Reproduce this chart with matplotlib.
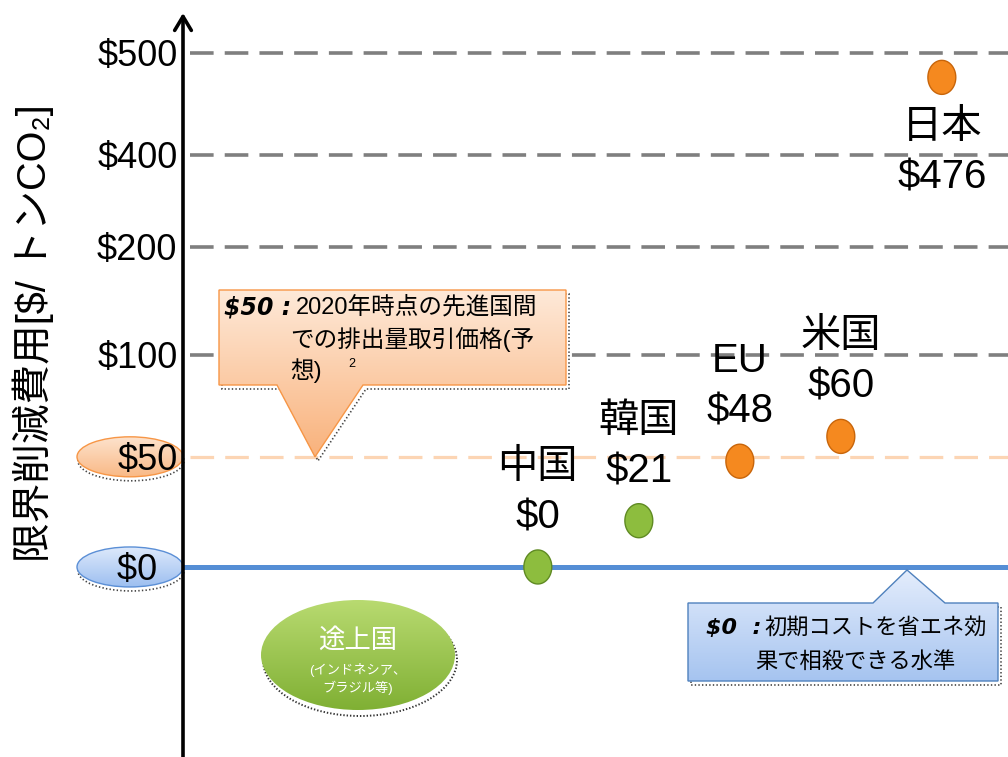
import numpy as np
import matplotlib
matplotlib.use("Agg")
import matplotlib.pyplot as plt
from matplotlib.patches import Polygon, Ellipse
from matplotlib.path import Path
from matplotlib.markers import MarkerStyle
from matplotlib.colors import to_rgb

plt.rcParams['font.family'] = ['Liberation Sans', 'Noto Sans CJK JP', 'DejaVu Sans']
plt.rcParams['lines.scale_dashes'] = False

# ---------------- data ----------------
countries = ['中国', '韓国', 'EU', '米国', '日本']
costs = [0, 21, 48, 60, 476]
developed = [False, False, True, True, True]
tick_vals = [0, 50, 100, 200, 400, 500]
tick_labels = ['$0', '$50', '$100', '$200', '$400', '$500']
grid_vals = [100, 200, 400, 500]
ref_price = 50       # 先進国間の排出量取引価格
breakeven = 0        # 省エネ効果で相殺できる水準

ylabel = '限界削減費用[$/ トンCO₂]'
note50_head = '$50 :'
note50_lines = ['2020年時点の先進国間', 'での排出量取引価格(予', '想)']
note0_head = '$0  :'
note0_lines = ['初期コストを省エネ効', '果で相殺できる水準']
dev_title = '途上国'
dev_sub = '(インドネシア、\nブラジル等)'

# ---------------- figure ----------------
W, H = 1008, 757
fig = plt.figure(figsize=(W / 100, H / 100), dpi=100, facecolor='white')

# background overlay (pixel coords, y down)
bg = fig.add_axes([0, 0, 1, 1], zorder=0)
bg.set_xlim(0, W); bg.set_ylim(H, 0); bg.axis('off')

ax = fig.add_axes([183 / W, 0, 1 - 183 / W, 1 - 13 / H], zorder=1)
ax.patch.set_alpha(0)

fg = fig.add_axes([0, 0, 1, 1], zorder=2)
fg.set_xlim(0, W); fg.set_ylim(H, 0); fg.axis('off')
fg.patch.set_alpha(0)

# piecewise scale of the value axis (ticks roughly evenly spaced)
KV = np.array(tick_vals, float)
KP = np.array([0, 1.08, 2.08, 3.14, 4.04, 5.04])


def _pw(v, a, b):
    v = np.asarray(v, float)
    out = np.interp(v, a, b)
    lo = b[0] + (v - a[0]) * (b[1] - b[0]) / (a[1] - a[0])
    hi = b[-1] + (v - a[-1]) * (b[-1] - b[-2]) / (a[-1] - a[-2])
    return np.where(v < a[0], lo, np.where(v > a[-1], hi, out))


ax.set_yscale('function', functions=(lambda v: _pw(v, KV, KP), lambda p: _pw(p, KP, KV)))
ax.set_ylim(_pw(-1.863, KP, KV), _pw(5.431, KP, KV))
x = np.arange(len(countries))
ax.set_xlim(-3.513, 4.655)

# axis styling
for s in ['top', 'right', 'bottom', 'left']:
    ax.spines[s].set_visible(False)
ax.set_xticks([])
# the $0 level sits centred in its ellipse badge
shown_labels = [lab + ('  ' if v == breakeven else '') for v, lab in zip(tick_vals, tick_labels)]
ax.set_yticks(tick_vals, labels=shown_labels)
ax.tick_params(axis='y', length=0, pad=4, labelsize=26)
ax.annotate('', xy=(0, 1), xycoords='axes fraction', xytext=(0, 0),
            arrowprops=dict(arrowstyle='->,head_length=1.0,head_width=0.6', lw=2.6,
                            color='black', shrinkA=0, shrinkB=0), zorder=5)

# grid lines
for gv in grid_vals:
    ax.axhline(gv, xmin=0.009, xmax=1, color='#7f7f7f', lw=2.6, dashes=(17, 8), zorder=1)
ax.axhline(ref_price, xmin=0.009, xmax=1, color='#fcd5b4', lw=2.3, dashes=(17, 8), zorder=1)
ax.axhline(breakeven, xmin=0, xmax=1, color='#558ed5', lw=3.6, zorder=1)

# points
t = np.linspace(0, 2 * np.pi, 60)
ell = Path(np.column_stack([0.41 * np.cos(t), 0.5 * np.sin(t)]), closed=True)
colors = ['#f5891f' if d else '#8dbd3e' for d in developed]
edges = ['#c8650a' if d else '#5f8a22' for d in developed]
ax.scatter(x, costs, s=600, marker=MarkerStyle(ell), c=colors, edgecolors=edges,
           linewidths=1.0, zorder=4, clip_on=False)

# labels
top_val = max(costs)
for xi, name, c in zip(x, countries, costs):
    txt = f'{name}\n${c}'
    if c == top_val:
        ax.annotate(txt, (xi, c), xytext=(0, -22), textcoords='offset points',
                    ha='center', va='top', fontsize=29, linespacing=1.42, zorder=5)
    else:
        ax.annotate(txt, (xi, c), xytext=(0, 22), textcoords='offset points',
                    ha='center', va='bottom', fontsize=29, linespacing=1.42, zorder=5)

# y label
fig.text(33 / W, 1 - 333 / H, ylabel, rotation=90, ha='center', va='center', fontsize=28.5)


# ---------------- decorations ----------------
def grad_fill(axx, patch, top_c, bot_c, y0, y1, x0, x1, z):
    n = 64
    a = np.array(to_rgb(top_c)); b = np.array(to_rgb(bot_c))
    img = np.linspace(0, 1, n)[:, None, None] * (b - a) + a
    img = np.repeat(img, 2, axis=1)
    im = axx.imshow(img, extent=(x0, x1, y1, y0), aspect='auto', origin='upper',
                    interpolation='bilinear', zorder=z)
    im.set_clip_path(patch)
    axx.set_xlim(0, W); axx.set_ylim(H, 0)


def shadow(axx, verts, z, dx=3, dy=4):
    sv = [(px + dx, py + dy) for px, py in verts]
    axx.add_patch(Polygon(sv, closed=True, fill=False, edgecolor='#444444',
                          linestyle=(0, (1, 1.6)), lw=1.2, zorder=z))


def y_px(v):
    return H - ax.transData.transform((0, v))[1]


# tick-label ellipses
for val, tc, bc, ec in [(ref_price, '#fde2cc', '#f9b986', '#f79646'),
                        (breakeven, '#dde9fb', '#9dbff0', '#5b8fd6')]:
    cy = y_px(val)
    sh = Ellipse((131, cy + 4), 106, 40, fill=False, edgecolor='#444444',
                 linestyle=(0, (1, 1.6)), lw=1.2, zorder=1)
    bg.add_patch(sh)
    e = Ellipse((130, cy), 106, 40, facecolor='none', edgecolor=ec, lw=1.0, zorder=3)
    bg.add_patch(e)
    grad_fill(bg, e, tc, bc, cy - 20, cy + 20, 77, 183, 2)

# orange callout ($50)
tip50 = y_px(ref_price)
v50 = [(219, 290), (566, 290), (566, 385), (363, 385), (315, tip50), (277, 385), (219, 385)]
shadow(fg, v50, 1)
p50 = Polygon(v50, closed=True, facecolor='none', edgecolor='#f79646', lw=1.0, zorder=3)
fg.add_patch(p50)
grad_fill(fg, p50, '#fee9d8', '#f9b27c', 290, tip50, 219, 566, 2)
fg.text(224, 307, note50_head, fontsize=17, fontweight='heavy', fontstyle='italic',
        family='DejaVu Sans', va='center', ha='left', zorder=4)
fg.text(296, 307, note50_lines[0], fontsize=17, va='center', ha='left', zorder=4)
fg.text(290, 340, note50_lines[1], fontsize=17, va='center', ha='left', zorder=4)
fg.text(290, 371, note50_lines[2], fontsize=17, va='center', ha='left', zorder=4)
fg.text(348, 364, '2', fontsize=9, va='center', ha='left', zorder=4)

# blue callout ($0)
tip0 = y_px(breakeven) + 3
v0 = [(688, 603), (873, 603), (907, tip0), (945, 603), (998, 603), (998, 681), (688, 681)]
shadow(fg, v0, 1)
p0 = Polygon(v0, closed=True, facecolor='none', edgecolor='#4f81bd', lw=1.0, zorder=3)
fg.add_patch(p0)
grad_fill(fg, p0, '#e4edfc', '#a6c4f0', tip0, 681, 688, 998, 2)
fg.text(706, 628, note0_head, fontsize=16, fontweight='heavy', fontstyle='italic',
        family='DejaVu Sans', va='center', ha='left', zorder=4)
fg.text(764, 628, note0_lines[0], fontsize=16, va='center', ha='left', zorder=4)
fg.text(755, 662, note0_lines[1], fontsize=16, va='center', ha='left', zorder=4)

# developing countries ellipse
fg.add_patch(Ellipse((360, 660), 194, 112, fill=False, edgecolor='#333333',
                     linestyle=(0, (1, 1.4)), lw=1.4, zorder=1))
ge = Ellipse((358, 655), 194, 110, facecolor='none', edgecolor='none', zorder=3)
fg.add_patch(ge)
grad_fill(fg, ge, '#b8da70', '#80b034', 600, 710, 261, 455, 2)
fg.text(358, 640, dev_title, fontsize=19, color='white', ha='center', va='center', zorder=4)
fg.text(358, 679, dev_sub, fontsize=9.5, color='white', ha='center', va='center',
        linespacing=1.4, zorder=4)

fig.savefig('out.png', dpi=100, facecolor='white')
